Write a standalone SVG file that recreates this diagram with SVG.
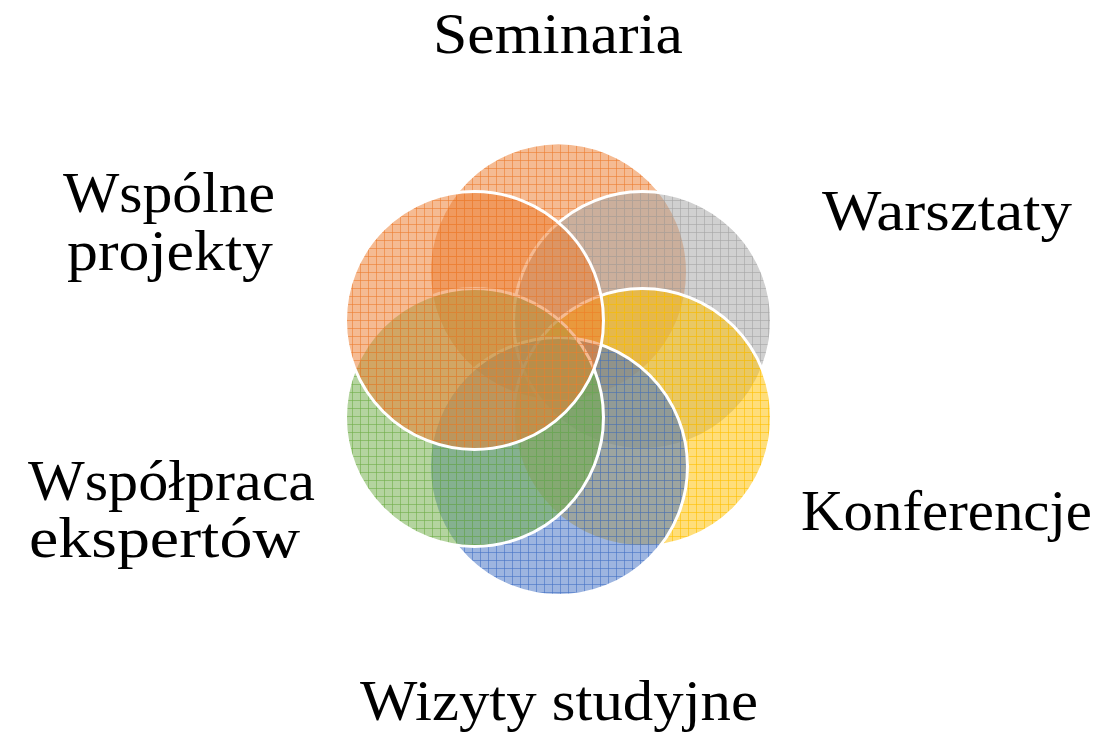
<svg xmlns="http://www.w3.org/2000/svg" width="1103" height="732" viewBox="0 0 1103 732">
<style>
.lbl{font-family:"Liberation Serif","DejaVu Serif",serif;font-size:56px;fill:#000;}
.c{stroke:#fff;stroke-width:3;}
</style>
<defs>
<pattern id="pO" width="8" height="8" patternUnits="userSpaceOnUse"><rect width="8" height="8" fill="#ED7D31" fill-opacity="0.52"/><path d="M0 0.5H8M0.5 0V8" stroke="#ED7D31" stroke-opacity="0.6" stroke-width="1"/></pattern>
<pattern id="pG" width="8" height="8" patternUnits="userSpaceOnUse"><rect width="8" height="8" fill="#A5A5A5" fill-opacity="0.52"/><path d="M0 0.5H8M0.5 0V8" stroke="#A5A5A5" stroke-opacity="0.6" stroke-width="1"/></pattern>
<pattern id="pY" width="8" height="8" patternUnits="userSpaceOnUse"><rect width="8" height="8" fill="#FFC000" fill-opacity="0.52"/><path d="M0 0.5H8M0.5 0V8" stroke="#FFC000" stroke-opacity="0.6" stroke-width="1"/></pattern>
<pattern id="pB" width="8" height="8" patternUnits="userSpaceOnUse"><rect width="8" height="8" fill="#4472C4" fill-opacity="0.52"/><path d="M0 0.5H8M0.5 0V8" stroke="#4472C4" stroke-opacity="0.6" stroke-width="1"/></pattern>
<pattern id="pGr" width="8" height="8" patternUnits="userSpaceOnUse"><rect width="8" height="8" fill="#70AD47" fill-opacity="0.52"/><path d="M0 0.5H8M0.5 0V8" stroke="#70AD47" stroke-opacity="0.6" stroke-width="1"/></pattern>
</defs>
<g id="connectors"/>
<g id="node-seminaria">
<circle class="c" cx="558.5" cy="272" r="129" fill="url(#pO)"/>
<text class="lbl" x="433" y="53" textLength="250" lengthAdjust="spacingAndGlyphs">Seminaria</text>
</g>
<g id="node-warsztaty">
<circle class="c" cx="642.5" cy="320.5" r="129" fill="url(#pG)"/>
<text class="lbl" x="822" y="230" textLength="250" lengthAdjust="spacingAndGlyphs">Warsztaty</text>
</g>
<g id="node-konferencje">
<circle class="c" cx="642.5" cy="417.5" r="129" fill="url(#pY)"/>
<text class="lbl" x="801" y="530" textLength="291" lengthAdjust="spacingAndGlyphs">Konferencje</text>
</g>
<g id="node-wizyty">
<circle class="c" cx="558.5" cy="466.5" r="129" fill="url(#pB)"/>
<text class="lbl" x="360" y="720" textLength="398" lengthAdjust="spacingAndGlyphs">Wizyty studyjne</text>
</g>
<g id="node-wspolpraca">
<circle class="c" cx="474.5" cy="417.5" r="129" fill="url(#pGr)"/>
<text class="lbl" x="28" y="500" textLength="287" lengthAdjust="spacingAndGlyphs">Współpraca</text>
<text class="lbl" x="29" y="557" textLength="271" lengthAdjust="spacingAndGlyphs">ekspertów</text>
</g>
<g id="node-wspolne">
<circle class="c" cx="474.5" cy="320.5" r="129" fill="url(#pO)"/>
<text class="lbl" x="63" y="212" textLength="212" lengthAdjust="spacingAndGlyphs">Wspólne</text>
<text class="lbl" x="67" y="270" textLength="206" lengthAdjust="spacingAndGlyphs">projekty</text>
</g>
</svg>
